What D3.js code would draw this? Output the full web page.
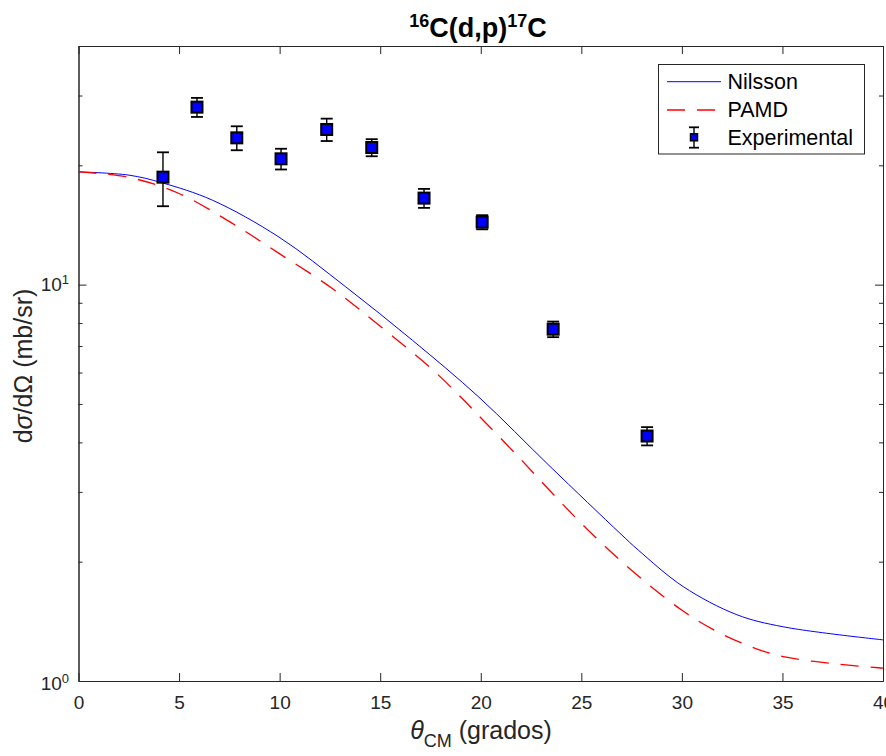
<!DOCTYPE html>
<html>
<head>
<meta charset="utf-8">
<script src="https://cdn.jsdelivr.net/npm/d3@7"></script>
<style>
body { margin: 0; background: #fff; }
svg { font-family: "Liberation Sans", Arial, Helvetica, sans-serif; }
</style>
</head>
<body>
<div id="chart"></div>
<script>
// Curves (theta in degrees, dsigma/dOmega in mb/sr)
var nilssonTheta = [0, 2.51, 4.17, 6.65, 9.97, 13.29, 16.60, 19.91, 23.44, 26.92, 27.83, 30.07, 32.73, 35.04, 40];
var nilssonValue = [19.25, 18.89, 18.06, 16.34, 13.18, 9.87, 7.24, 5.20, 3.48, 2.36, 2.14, 1.73, 1.47, 1.37, 1.27];

var pamdTheta = [0, 2.51, 5.0, 7.65, 9.97, 12.62, 14.94, 17.59, 19.08, 19.80, 21.87, 23.44, 24.93, 27.01, 29.99, 31.90, 33.89, 35.04, 37.37, 39.77, 40];
var pamdValue = [19.25, 18.64, 16.98, 14.27, 11.99, 9.78, 7.90, 6.11, 5.16, 4.73, 3.68, 3.02, 2.52, 2.00, 1.51, 1.32, 1.197, 1.152, 1.108, 1.080, 1.078];

// Experimental points with symmetric errors
var expTheta = [4.20, 5.89, 7.87, 10.07, 12.34, 14.58, 17.18, 20.07, 23.60, 28.27];
var expValue = [18.67, 28.04, 23.46, 20.77, 24.63, 22.18, 16.53, 14.38, 7.72, 4.15];
var expError = [2.9, 1.55, 1.63, 1.25, 1.6, 1.1, 0.91, 0.59, 0.35, 0.22];

var xTicks = [0, 5, 10, 15, 20, 25, 30, 35, 40];
var yMajorTicks = [1, 10];
var yMinorTicks = [2, 3, 4, 5, 6, 7, 8, 9, 20, 30, 40];

var margin = {top: 46, left: 78.5},
    width = 804.5,
    height = 635;
var axisColor = "#262626";

var svg = d3.select("#chart")
    .append("svg")
    .attr("width", 886)
    .attr("height", 756);

var g = svg.append("g")
    .attr("transform", "translate(" + margin.left + "," + margin.top + ")");

var x = d3.scaleLinear().domain([0, 40]).range([0, width]);
var y = d3.scaleLog().domain([1, 40]).range([height, 0]);

function styleAxis(sel) {
    sel.select(".domain").attr("stroke", axisColor);
    sel.selectAll(".tick line").attr("stroke", axisColor);
    sel.selectAll(".tick text").attr("fill", axisColor).attr("font-size", 19)
        .attr("font-family", "'Liberation Sans', Arial, sans-serif");
}

// Bottom / top axes (ticks point inward)
g.append("g")
    .attr("transform", "translate(0," + height + ")")
    .call(d3.axisBottom(x).tickValues(xTicks).tickSizeInner(-8).tickSizeOuter(0).tickPadding(15).tickFormat(d3.format("d")))
    .call(styleAxis);
g.append("g")
    .call(d3.axisTop(x).tickValues(xTicks).tickSizeInner(-8).tickSizeOuter(0).tickFormat(""))
    .call(styleAxis);

// Left / right log axes, major and minor
g.append("g")
    .call(d3.axisLeft(y).tickValues(yMajorTicks).tickSizeInner(-8).tickSizeOuter(0).tickFormat(""))
    .call(styleAxis);
g.append("g")
    .call(d3.axisLeft(y).tickValues(yMinorTicks).tickSizeInner(-4).tickSizeOuter(0).tickFormat(""))
    .call(styleAxis);
g.append("g")
    .attr("transform", "translate(" + width + ",0)")
    .call(d3.axisRight(y).tickValues(yMajorTicks).tickSizeInner(-8).tickSizeOuter(0).tickFormat(""))
    .call(styleAxis);
g.append("g")
    .attr("transform", "translate(" + width + ",0)")
    .call(d3.axisRight(y).tickValues(yMinorTicks).tickSizeInner(-4).tickSizeOuter(0).tickFormat(""))
    .call(styleAxis);

// 10^n labels
yMajorTicks.forEach(function(v) {
    var t = g.append("text")
        .attr("x", -9.5)
        .attr("y", y(v) + (v === 1 ? 9 : 6.5))
        .attr("text-anchor", "end")
        .attr("fill", axisColor)
        .attr("font-size", 19);
    t.append("tspan").text("10");
    t.append("tspan").attr("font-size", 13).attr("dy", -7).text(Math.round(Math.log10(v)));
});

// Curves
g.append("clipPath").attr("id", "clip")
    .append("rect").attr("width", width).attr("height", height);

var plot = g.append("g").attr("clip-path", "url(#clip)");

var nilssonData = nilssonTheta.map(function(t, i) { return [t, nilssonValue[i]]; });
var pamdData = pamdTheta.map(function(t, i) { return [t, pamdValue[i]]; });

var line = d3.line()
    .x(function(d) { return x(d[0]); })
    .y(function(d) { return y(d[1]); })
    .curve(d3.curveCatmullRom.alpha(0.5));

plot.append("path")
    .datum(nilssonData)
    .attr("fill", "none")
    .attr("stroke", "#0000ff")
    .attr("stroke-width", 1)
    .attr("d", line);

plot.append("path")
    .datum(pamdData)
    .attr("fill", "none")
    .attr("stroke", "#ff0000")
    .attr("stroke-width", 1.3)
    .attr("stroke-dasharray", "18,12")
    .attr("d", line);

// Experimental error bars + squares
var expData = expTheta.map(function(t, i) { return {t: t, v: expValue[i], e: expError[i]}; });
var pts = g.append("g").selectAll("g").data(expData).enter().append("g");

pts.append("line")
    .attr("x1", function(d) { return x(d.t); })
    .attr("x2", function(d) { return x(d.t); })
    .attr("y1", function(d) { return y(d.v + d.e); })
    .attr("y2", function(d) { return y(d.v - d.e); })
    .attr("stroke", "#000").attr("stroke-width", 1.4);
pts.append("line")
    .attr("x1", function(d) { return x(d.t) - 6; })
    .attr("x2", function(d) { return x(d.t) + 6; })
    .attr("y1", function(d) { return y(d.v + d.e); })
    .attr("y2", function(d) { return y(d.v + d.e); })
    .attr("stroke", "#000").attr("stroke-width", 1.8);
pts.append("line")
    .attr("x1", function(d) { return x(d.t) - 6; })
    .attr("x2", function(d) { return x(d.t) + 6; })
    .attr("y1", function(d) { return y(d.v - d.e); })
    .attr("y2", function(d) { return y(d.v - d.e); })
    .attr("stroke", "#000").attr("stroke-width", 1.8);
pts.append("rect")
    .attr("x", function(d) { return x(d.t) - 5.5; })
    .attr("y", function(d) { return y(d.v) - 5.5; })
    .attr("width", 11)
    .attr("height", 11)
    .attr("fill", "#0000ff")
    .attr("stroke", "#000")
    .attr("stroke-width", 2);

// Title
var title = svg.append("text")
    .attr("x", 478)
    .attr("y", 37)
    .attr("text-anchor", "middle")
    .attr("font-weight", "bold")
    .attr("font-size", 27)
    .attr("fill", "#000");
title.append("tspan").attr("font-size", 18).attr("dy", -10).text("16");
title.append("tspan").attr("dy", 10).text("C(d,p)");
title.append("tspan").attr("font-size", 18).attr("dy", -10).text("17");
title.append("tspan").attr("dy", 10).text("C");

// X label
var xl = svg.append("text")
    .attr("x", 481)
    .attr("y", 739)
    .attr("text-anchor", "middle")
    .attr("font-size", 25)
    .attr("fill", axisColor);
xl.append("tspan").attr("font-style", "italic").text("\u03B8");
xl.append("tspan").attr("font-size", 18).attr("dy", 8).text("CM");
xl.append("tspan").attr("dy", -8).text(" (grados)");

// Y label
var yl = svg.append("text")
    .attr("transform", "translate(31.5,366) rotate(-90)")
    .attr("text-anchor", "middle")
    .attr("font-size", 25)
    .attr("fill", axisColor);
yl.append("tspan").text("d");
yl.append("tspan").attr("font-style", "italic").text("\u03C3");
yl.append("tspan").text("/d\u03A9 (mb/sr)");

// Legend
var legend = svg.append("g");
legend.append("rect")
    .attr("x", 658.5).attr("y", 64.5)
    .attr("width", 206).attr("height", 89.5)
    .attr("fill", "#fff")
    .attr("stroke", axisColor)
    .attr("stroke-width", 1);
legend.append("line")
    .attr("x1", 667).attr("x2", 721).attr("y1", 81.7).attr("y2", 81.7)
    .attr("stroke", "#0000ff").attr("stroke-width", 1);
legend.append("line")
    .attr("x1", 667).attr("x2", 721).attr("y1", 110).attr("y2", 110)
    .attr("stroke", "#ff0000").attr("stroke-width", 1.3).attr("stroke-dasharray", "18,12");
legend.append("line")
    .attr("x1", 694).attr("x2", 694).attr("y1", 127.3).attr("y2", 147.7)
    .attr("stroke", "#000").attr("stroke-width", 1.4);
legend.append("line")
    .attr("x1", 689).attr("x2", 699).attr("y1", 127.3).attr("y2", 127.3)
    .attr("stroke", "#000").attr("stroke-width", 1.8);
legend.append("line")
    .attr("x1", 689).attr("x2", 699).attr("y1", 147.7).attr("y2", 147.7)
    .attr("stroke", "#000").attr("stroke-width", 1.8);
legend.append("rect")
    .attr("x", 690.5).attr("y", 133.8).attr("width", 7).attr("height", 7)
    .attr("fill", "#0000ff").attr("stroke", "#000").attr("stroke-width", 1.5);

var legendLabels = ["Nilsson", "PAMD", "Experimental"];
var legendY = [89, 117, 144.5];
legendLabels.forEach(function(s, i) {
    legend.append("text")
        .attr("x", 727.5)
        .attr("y", legendY[i])
        .attr("font-size", 21.5)
        .attr("fill", "#000")
        .text(s);
});
</script>
</body>
</html>
